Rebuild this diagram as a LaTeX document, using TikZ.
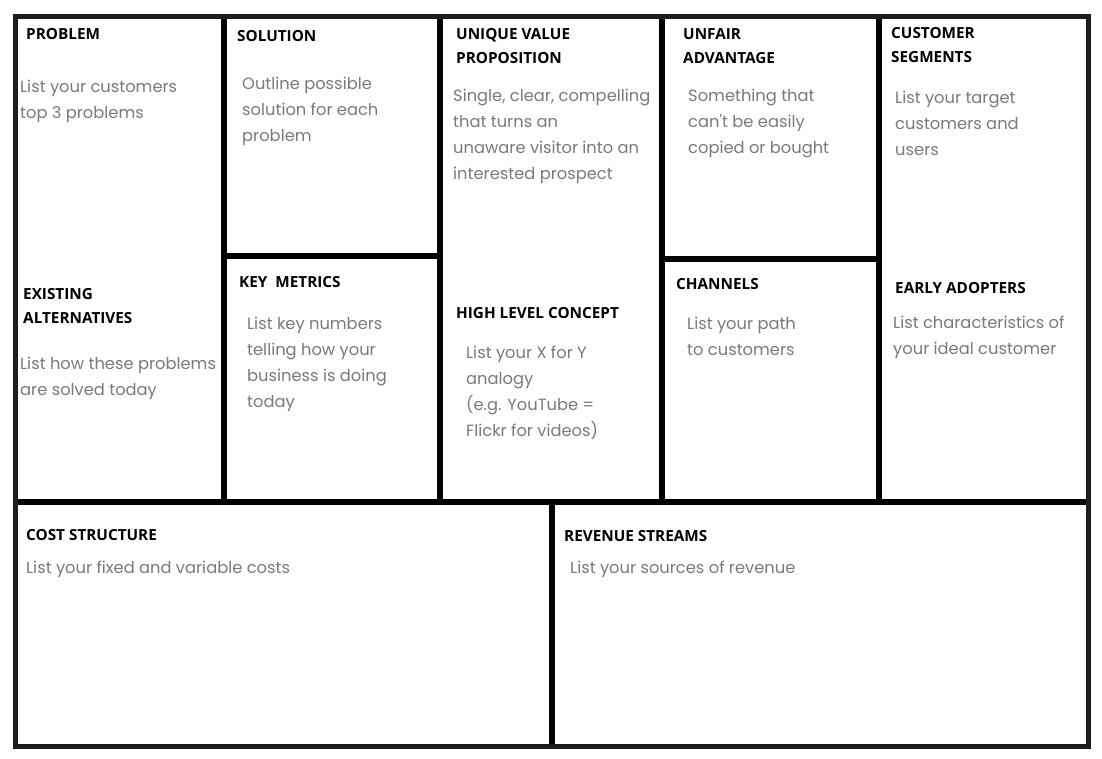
\documentclass[tikz,border=0pt]{standalone}
\usepackage{fontspec}
\setmainfont{Open Sans}
\newfontfamily\notefont{Poppins}
\usetikzlibrary{positioning}
\definecolor{notegray}{HTML}{7A7A7A}
\definecolor{framegray}{HTML}{1C1C1C}

\begin{document}
\begin{tikzpicture}[x=1pt, y=-1pt]
    \tikzstyle{title}=[anchor=base west, inner sep=0, font=\bfseries\fontsize{15.3}{24}\selectfont, align=left]
    \tikzstyle{note}=[anchor=base west, inner sep=0, text=notegray, font=\notefont\fontsize{16.3}{26}\selectfont, align=left]
    \tikzstyle{rule}=[line width=6pt, line cap=round, black]

    \useasboundingbox (0,0) rectangle (1102,758);
    \fill[white] (0,0) rectangle (1102,758);

    % dividers
    \draw[rule] (224,19) -- (224,502);
    \draw[rule] (440,19) -- (440,502);
    \draw[rule] (662,19) -- (662,502);
    \draw[rule] (879,19) -- (879,502);
    \draw[rule] (224,256) -- (440,256);
    \draw[rule] (662,259) -- (879,259);
    \draw[rule] (18,502) -- (1086,502);
    \draw[rule] (552,502) -- (552,744);

    % outer frame
    \draw[line width=5pt, framegray] (15.5,16.5) rectangle (1088.5,746.5);

    % top row (anchor is the last line's baseline)
    \node[title] (problem) at (26,39) {PROBLEM};
    \node[note] (problemtxt) at (20,118) {List your customers\\top 3 problems};
    \node[title] (solution) at (237,41) {SOLUTION};
    \node[note] (solutiontxt) at (242,141) {Outline possible\\solution for each\\problem};
    \node[title] (uvp) at (456,63) {UNIQUE VALUE\\PROPOSITION};
    \node[note] (uvptxt) at (453,179) {Single, clear, compelling\\that turns an\\unaware visitor into an\\interested prospect};
    \node[title] (unfair) at (683,63) {UNFAIR\\ADVANTAGE};
    \node[note] (unfairtxt) at (688,153) {Something that\\can't be easily\\copied or bought};
    \node[title] (segments) at (891,62) {CUSTOMER\\SEGMENTS};
    \node[note] (segmentstxt) at (895,155) {List your target\\customers and\\users};

    % middle row
    \node[title] (existing) at (23,323) {EXISTING\\ALTERNATIVES};
    \node[note] (existingtxt) at (20,395) {List how these problems\\are solved today};
    \node[title] (metrics) at (239,287) {KEY\ \ METRICS};
    \node[note] (metricstxt) at (247,407) {List key numbers\\telling how your\\business is doing\\today};
    \node[title] (concept) at (456,318) {HIGH LEVEL CONCEPT};
    \node[note] (concepttxt) at (466,436) {List your X for Y\\analogy\\(e.g. YouTube =\\Flickr for videos)};
    \node[title] (channels) at (676,289) {CHANNELS};
    \node[note] (channelstxt) at (687,355) {List your path\\to customers};
    \node[title] (adopters) at (895,293) {EARLY ADOPTERS};
    \node[note] (adopterstxt) at (893,354) {List characteristics of\\your ideal customer};

    % bottom row
    \node[title] (cost) at (26,540) {COST STRUCTURE};
    \node[note] (costtxt) at (26,573) {List your fixed and variable costs};
    \node[title] (revenue) at (564,541) {REVENUE STREAMS};
    \node[note] (revenuetxt) at (570,573) {List your sources of revenue};
\end{tikzpicture}
\end{document}
